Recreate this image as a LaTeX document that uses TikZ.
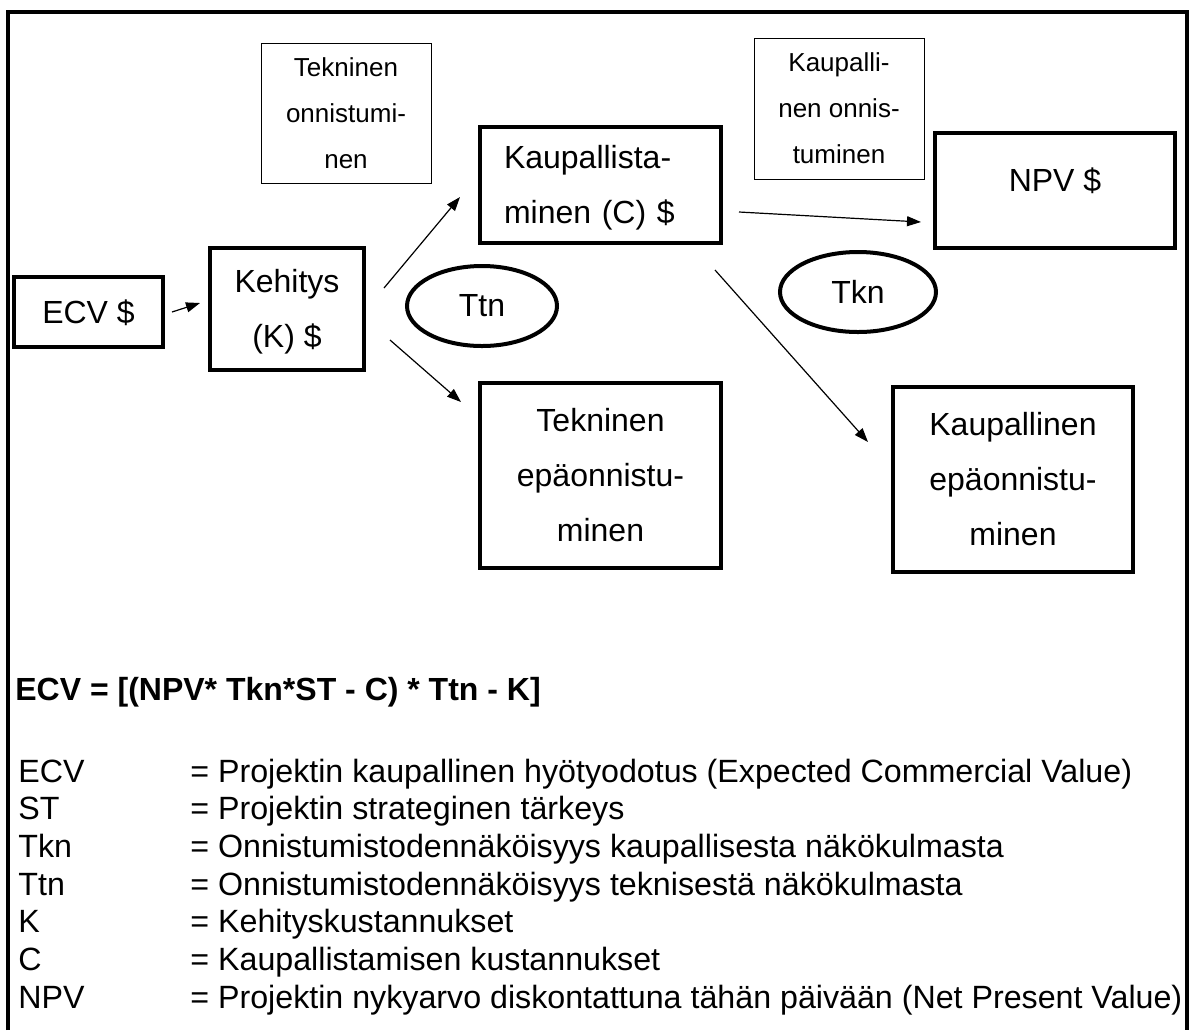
\documentclass[tikz,border=0pt]{standalone}
\usepackage{fontspec}
\setmainfont{Liberation Sans}
\usetikzlibrary{arrows.meta,positioning,shapes.geometric}

\begin{document}
\begin{tikzpicture}[x=0.5pt, y=-0.5pt,
  bigbox/.style={draw, line width=2pt, inner sep=0pt, align=center,
    font=\fontsize{16}{27.5}\selectfont},
  notebox/.style={draw, line width=0.5pt, inner sep=0pt, align=center,
    font=\fontsize{13}{23}\selectfont},
  prob/.style={draw, ellipse, line width=2pt, inner sep=0pt,
    minimum height=40pt, font=\fontsize{16}{19}\selectfont},
  arr/.style={-{Triangle[length=7pt, width=5pt]}, line width=0.6pt}]
\useasboundingbox (0,0) rectangle (1195,1030);
% Frame, open at the bottom
\draw[line width=2pt] (8,1030) -- (8,12) -- (1187,12) -- (1187,1030);
% Start: ECV and development
\node[bigbox, minimum width=74.5pt, minimum height=35pt] (ecv) at (88.5,312) {\strut ECV \$};
\node[bigbox, minimum width=77pt, minimum height=61pt] (keh) at (287,309) {\strut Kehitys\\(K) \$\strut};
\draw[arr] ([shift={(7,0)}]ecv.east) -- ([shift={(-8,-6)}]keh.west);
% Technical stage
\node[notebox, minimum width=85pt, minimum height=70pt] (tonn) at (346,113) {\strut Tekninen\\onnistumi-\\nen\strut};
\node[prob, minimum width=75pt] (ttn) at (482,306) {Ttn};
\node[bigbox, align=left, text width=96.5pt, inner xsep=12pt, minimum height=58pt] (kaup) at (600.5,185) {\strut Kaupallista-\\minen (C) \$\strut};
\node[bigbox, minimum width=120.5pt, minimum height=92.5pt] (tepa) at (600.5,475.5) {\strut Tekninen\\epäonnistu-\\minen\strut};
\draw[arr] ([shift={(18,-21)}]keh.east) -- ([shift={(-18,12)}]kaup.west);
\draw[arr] ([shift={(24,31)}]keh.east) -- ([shift={(-17,21)}]tepa.north west);
% Commercial stage
\node[notebox, minimum width=85pt, minimum height=70.5pt] (konn) at (839,108.5) {\strut Kaupalli-\\nen onnis-\\tuminen\strut};
\node[prob, minimum width=78pt] (tkn) at (858,292) {Tkn};
\node[bigbox, minimum width=120pt, minimum height=57.5pt, text height=12pt, text depth=10.75pt] (npv) at (1055,190.5) {NPV \$};
\node[bigbox, minimum width=120pt, minimum height=92.5pt] (kepa) at (1013,479.5) {\strut Kaupallinen\\epäonnistu-\\minen\strut};
\draw[arr] ([shift={(16,27)}]kaup.east) -- ([shift={(-12,31.5)}]npv.west);
\draw[arr] ([shift={(-8,25)}]kaup.south east) -- ([shift={(-23,-37.5)}]kepa.west);
% Formula and legend
\node[anchor=base west, inner sep=0pt, font=\bfseries\fontsize{16}{18.5}\selectfont] (formula) at (15,700) {ECV = [(NPV* Tkn*ST - C) * Ttn - K]};
\node[anchor=base west, inner sep=0pt, font=\fontsize{16.1}{18.85}\selectfont] (legend) at (18,782) {%
  \begin{tabular}[t]{@{}p{86pt}@{}l@{}}
  ECV & = Projektin kaupallinen hyötyodotus (Expected Commercial Value)\\
  ST  & = Projektin strateginen tärkeys\\
  Tkn & = Onnistumistodennäköisyys kaupallisesta näkökulmasta\\
  Ttn & = Onnistumistodennäköisyys teknisestä näkökulmasta\\
  K   & = Kehityskustannukset\\
  C   & = Kaupallistamisen kustannukset\\
  NPV & = Projektin nykyarvo diskontattuna tähän päivään (Net Present Value)
  \end{tabular}};
\end{tikzpicture}
\end{document}
